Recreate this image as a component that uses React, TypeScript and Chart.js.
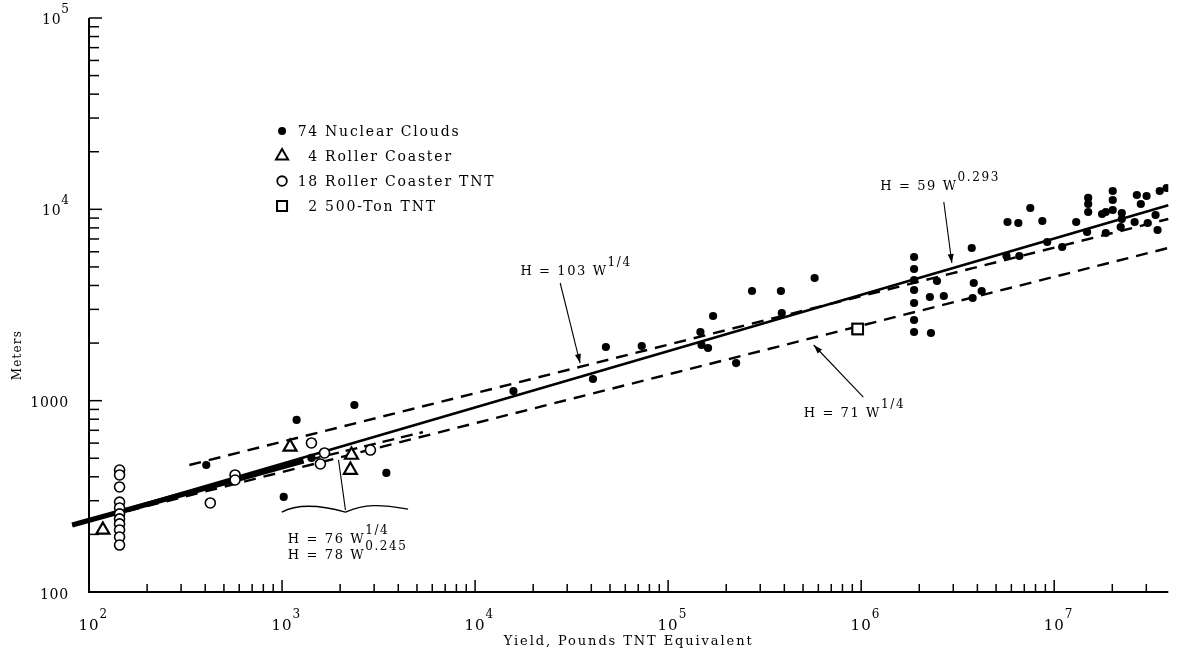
import React, { useEffect, useRef } from "react";
import { Chart, registerables } from "chart.js";

Chart.register(...registerables);

// ---------------- data ----------------
const nuclearW = [
  405, 1020, 1190, 1420, 2370, 3470, 15800, 47600, 73000, 40800, 147000, 149000, 161000, 171000, 225000, 272000,
  384000, 388000, 574000,
  1.88e6, 1.88e6, 1.88e6, 1.88e6, 1.88e6, 1.88e6, 1.88e6, 2.27e6, 2.3e6, 2.47e6, 2.68e6, 3.74e6, 3.83e6, 4.21e6, 3.78e6,
  5.66e6, 6.6e6, 5.73e6, 6.52e6, 7.52e6, 8.68e6, 9.2e6, 1.1e7, 1.3e7, 1.5e7, 1.5e7, 1.5e7, 1.48e7, 1.77e7, 1.85e7,
  1.85e7, 2.01e7, 2.01e7, 2.01e7, 2.24e7, 2.24e7, 2.21e7, 2.68e7, 3.01e7, 2.81e7, 2.61e7, 3.05e7, 3.35e7, 3.43e7,
  3.52e7, 3.82e7,
];
const nuclearH = [
  461, 314, 793, 502, 949, 419, 1123, 1908, 1931, 1298, 2285, 1954, 1885, 2770, 1573, 3743,
  3743, 2872, 4377,
  5636, 4878, 4273, 3788, 3239, 2640, 2285, 3482, 2258, 4222, 3524, 6281, 4121, 3743, 3440,
  5704, 5704, 8586, 8484, 10160, 8690, 6750, 6356, 8586, 11470, 10660, 9685, 7614, 9455, 9685,
  7522, 12470, 11190, 9920, 9570, 8903, 8087, 11880, 11740, 10660, 8586, 8484, 9342, 7798,
  12470, 12930,
];

const rollerW = [118, 1100, 2290, 2260];
const rollerH = [211, 573, 520, 434];

const rollerTntW = [144, 144, 144, 144, 144, 144, 144, 144, 144, 144, 144, 425, 571, 571, 1420, 1660, 1580, 2870];
const rollerTntH = [434, 409, 354, 295, 275, 256, 241, 227, 211, 194, 176, 292, 409, 385, 601, 533, 467, 552];

const tonW = [9.6e5, 9.6e5];
const tonH = [2369, 2369];

// fitted lines (end points)
const fit59W = [81.8, 3.9e7];
const fit59H = [224, 10500];
const fit76W = [81.8, 1294];
const fit76H = [224, 484];
const fit78W = [1374, 5370];
const fit78H = [490, 685];
const fit103W = [331, 3.9e7];
const fit103H = [461, 8903];
const fit71W = [158.8, 3.9e7];
const fit71H = [265, 6281];

const legendLabels = ["Nuclear Clouds", "Roller Coaster", "Roller Coaster TNT", "500-Ton TNT"];
const legendCounts = ["74", "4", "18", "2"];

const xTickValues = [1e2, 1e3, 1e4, 1e5, 1e6, 1e7];
const xTickBase = ["10", "10", "10", "10", "10", "10"];
const xTickSup = ["2", "3", "4", "5", "6", "7"];
const yTickValues = [100, 1000, 1e4, 1e5];
const yTickBase = ["100", "1000", "10", "10"];
const yTickSup = ["", "", "4", "5"];

const xTitle = "Yield, Pounds TNT Equivalent";
const yTitle = "Meters";

// annotation anchors (data space)
const annotations = [
  { text: "H = 103 W", sup: "1/4", at: [17170, 4705] },
  { text: "H = 71 W", sup: "1/4", at: [5.04e5, 852] },
  { text: "H = 59 W", sup: "0.293", at: [1.256e6, 13080] },
  { text: "H = 76 W", sup: "1/4", at: [1072, 188] },
  { text: "H = 78 W", sup: "0.245", at: [1072, 154] },
];
const arrows = [
  { from: [27600, 4121], to: [34990, 1573], head: true },
  { from: [1.026e6, 1045], to: [5.675e5, 1954], head: true },
  { from: [2.68e6, 10920], to: [2.95e6, 5243], head: true },
  { from: [2131, 268], to: [1961, 490], head: false },
];
const brace = { from: 997, mid: 2131, to: 4498, h: 268 };
const legendAnchor = [1000, 25650];
const yTitleAt = 1730;

// ---------------- helpers ----------------
const FONT = '"DejaVu Serif", "Liberation Serif", serif';

function setFont(ctx: any, size: number, spacing: number, style = "") {
  ctx.font = `${style}${size}px ${FONT}`;
  ctx.letterSpacing = `${spacing}px`;
}

function supText(
  ctx: any,
  base: string,
  sup: string,
  x: number,
  y: number,
  o: { size: number; supSize: number; raise: number; spacing: number; supSpacing: number; align: string }
) {
  setFont(ctx, o.size, o.spacing);
  const bw = ctx.measureText(base).width;
  setFont(ctx, o.supSize, o.supSpacing);
  const sw = sup ? ctx.measureText(sup).width : 0;
  let x0 = x;
  if (o.align === "right") x0 = x - bw - sw;
  else if (o.align === "center") x0 = x - bw / 2;
  ctx.textAlign = "left";
  ctx.textBaseline = "middle";
  setFont(ctx, o.size, o.spacing);
  ctx.fillText(base, x0, y);
  if (sup) {
    setFont(ctx, o.supSize, o.supSpacing);
    ctx.fillText(sup, x0 + bw, y - o.raise);
  }
}

function drawArrow(ctx: any, x1: number, y1: number, x2: number, y2: number, head: boolean) {
  ctx.lineWidth = 1.1;
  ctx.beginPath();
  ctx.moveTo(x1, y1);
  ctx.lineTo(x2, y2);
  ctx.stroke();
  if (head) {
    const a = Math.atan2(y2 - y1, x2 - x1);
    const len = 9;
    const hw = 3;
    ctx.beginPath();
    ctx.moveTo(x2, y2);
    ctx.lineTo(x2 - len * Math.cos(a) + hw * Math.sin(a), y2 - len * Math.sin(a) - hw * Math.cos(a));
    ctx.lineTo(x2 - len * Math.cos(a) - hw * Math.sin(a), y2 - len * Math.sin(a) + hw * Math.cos(a));
    ctx.closePath();
    ctx.fill();
  }
}

function drawSymbol(ctx: any, kind: number, x: number, y: number) {
  ctx.lineWidth = 2;
  ctx.beginPath();
  if (kind === 0) {
    ctx.arc(x, y, 4, 0, Math.PI * 2);
    ctx.fill();
  } else if (kind === 1) {
    const r = 7;
    ctx.moveTo(x, y - r);
    ctx.lineTo(x + r * 0.866, y + r * 0.5);
    ctx.lineTo(x - r * 0.866, y + r * 0.5);
    ctx.closePath();
    ctx.stroke();
  } else if (kind === 2) {
    ctx.lineWidth = 1.8;
    ctx.arc(x, y, 4.8, 0, Math.PI * 2);
    ctx.stroke();
  } else {
    ctx.rect(x - 5, y - 5, 10, 10);
    ctx.stroke();
  }
}

const decorPlugin = {
  id: "decor",
  afterDatasetsDraw(chart: any) {
    const ctx = chart.ctx;
    const xs = chart.scales.x;
    const ys = chart.scales.y;
    const px = (v: number) => xs.getPixelForValue(v);
    const py = (v: number) => ys.getPixelForValue(v);
    const { left, right, top, bottom } = chart.chartArea;
    ctx.save();
    ctx.strokeStyle = "#000";
    ctx.fillStyle = "#000";

    // axes
    ctx.lineWidth = 2;
    ctx.beginPath();
    ctx.moveTo(left, top);
    ctx.lineTo(left, bottom);
    ctx.lineTo(right, bottom);
    ctx.stroke();

    // inward ticks
    ctx.lineWidth = 1.5;
    for (let e = 2; e <= 7; e++) {
      for (let m = 1; m <= 9; m++) {
        const v = m * Math.pow(10, e);
        if (v > xs.max * 1.0001) break;
        const p = px(v);
        const len = m === 1 ? 12 : 8;
        ctx.beginPath();
        ctx.moveTo(p, bottom);
        ctx.lineTo(p, bottom - len);
        ctx.stroke();
      }
    }
    for (let e = 2; e <= 5; e++) {
      for (let m = 1; m <= 9; m++) {
        const v = m * Math.pow(10, e);
        if (v > ys.max * 1.0001) break;
        const p = py(v);
        const len = m === 1 ? 13 : 10;
        ctx.beginPath();
        ctx.moveTo(left, p);
        ctx.lineTo(left + len, p);
        ctx.stroke();
      }
    }

    // tick labels
    xTickValues.forEach((v, i) => {
      supText(ctx, xTickBase[i], xTickSup[i], px(v), bottom + 34, {
        size: 15, supSize: 12, raise: 11, spacing: 1, supSpacing: 0, align: "center",
      });
    });
    yTickValues.forEach((v, i) => {
      supText(ctx, yTickBase[i], yTickSup[i], left - 20, py(v) + (yTickSup[i] ? 2 : 3), {
        size: 14, supSize: 12, raise: 10, spacing: 0.8, supSpacing: 0, align: "right",
      });
    });

    // axis titles
    setFont(ctx, 13, 1.9);
    ctx.textAlign = "center";
    ctx.textBaseline = "middle";
    ctx.fillText(xTitle, (left + right) / 2, bottom + 50);
    ctx.save();
    ctx.translate(18, py(yTitleAt));
    ctx.rotate(-Math.PI / 2);
    setFont(ctx, 12, 1.2);
    ctx.fillText(yTitle, 0, 0);
    ctx.restore();

    // legend
    const legendX = px(legendAnchor[0]);
    const legendY0 = py(legendAnchor[1]);
    legendLabels.forEach((lab, i) => {
      const y = legendY0 + i * 25;
      drawSymbol(ctx, i, legendX, y);
      setFont(ctx, 14, 1.8);
      ctx.textBaseline = "middle";
      ctx.textAlign = "right";
      ctx.fillText(legendCounts[i], legendX + 37, y + 1);
      ctx.textAlign = "left";
      ctx.fillText(lab, legendX + 43, y + 1);
    });

    // annotations
    annotations.forEach((a) => {
      supText(ctx, a.text, a.sup, px(a.at[0]), py(a.at[1]), {
        size: 13, supSize: 12, raise: 9, spacing: 1.6, supSpacing: 1.6, align: "left",
      });
    });
    arrows.forEach((a) => {
      drawArrow(ctx, px(a.from[0]), py(a.from[1]), px(a.to[0]), py(a.to[1]), a.head);
    });
    // brace
    const bx1 = px(brace.from);
    const bxm = px(brace.mid);
    const bx2 = px(brace.to);
    const by = py(brace.h);
    ctx.lineWidth = 1.3;
    ctx.beginPath();
    ctx.moveTo(bx1, by + 2);
    ctx.bezierCurveTo(bx1 + 15, by - 6, bxm - 25, by - 5, bxm, by + 2);
    ctx.bezierCurveTo(bxm + 20, by - 6, bx2 - 30, by - 6, bx2, by - 1);
    ctx.stroke();

    ctx.restore();
  },
};

function pts(w: number[], h: number[]) {
  return w.map((x, i) => ({ x, y: h[i] }));
}

export default function App() {
  const ref = useRef<HTMLCanvasElement>(null);
  useEffect(() => {
    if (!ref.current) return;
    const lineBase = {
      type: "scatter" as const,
      showLine: true,
      pointRadius: 0,
      borderColor: "#000",
      backgroundColor: "#000",
      fill: false,
      tension: 0,
      clip: false as any,
    };
    const chart = new Chart(ref.current, {
      type: "scatter",
      data: {
        datasets: [
          {
            label: "74 Nuclear Clouds",
            data: pts(nuclearW, nuclearH),
            pointStyle: "circle",
            pointRadius: 4.1,
            backgroundColor: "#000",
            borderColor: "#000",
            borderWidth: 0,
          },
          {
            label: "4 Roller Coaster",
            data: pts(rollerW, rollerH),
            pointStyle: "triangle",
            pointRadius: 7.5,
            backgroundColor: "#fff",
            borderColor: "#000",
            borderWidth: 2.2,
          },
          {
            label: "18 Roller Coaster TNT",
            data: pts(rollerTntW, rollerTntH),
            pointStyle: "circle",
            pointRadius: 5,
            backgroundColor: "#fff",
            borderColor: "#000",
            borderWidth: 1.6,
          },
          {
            label: "2 500-Ton TNT",
            data: pts(tonW, tonH),
            pointStyle: "rect",
            pointRadius: 7.5,
            backgroundColor: "#fff",
            borderColor: "#000",
            borderWidth: 2,
          },
          { ...lineBase, label: "H = 76 W^1/4", data: pts(fit76W, fit76H), borderWidth: 5 },
          { ...lineBase, label: "H = 59 W^0.293", data: pts(fit59W, fit59H), borderWidth: 2.6 },
          { ...lineBase, label: "H = 78 W^0.245", data: pts(fit78W, fit78H), borderWidth: 2.4, borderDash: [12, 7] },
          { ...lineBase, label: "H = 103 W^1/4", data: pts(fit103W, fit103H), borderWidth: 2.4, borderDash: [12, 8] },
          { ...lineBase, label: "H = 71 W^1/4", data: pts(fit71W, fit71H), borderWidth: 2.4, borderDash: [12, 8] },
        ] as any,
      },
      options: {
        animation: false,
        responsive: false,
        events: [],
        layout: { padding: { left: 89, right: 3, top: 18, bottom: 59 } },
        plugins: { legend: { display: false }, tooltip: { enabled: false } },
        scales: {
          x: { type: "logarithmic", min: 100, max: 3.9e7, display: false },
          y: { type: "logarithmic", min: 100, max: 1e5, display: false },
        },
      },
      plugins: [decorPlugin],
    });
    return () => chart.destroy();
  }, []);
  return (
    <div style={{ position: "absolute", left: 0, top: 0, width: 1178, height: 651, background: "#fff" }}>
      <canvas ref={ref} width={1178} height={651} style={{ display: "block" }} />
    </div>
  );
}
